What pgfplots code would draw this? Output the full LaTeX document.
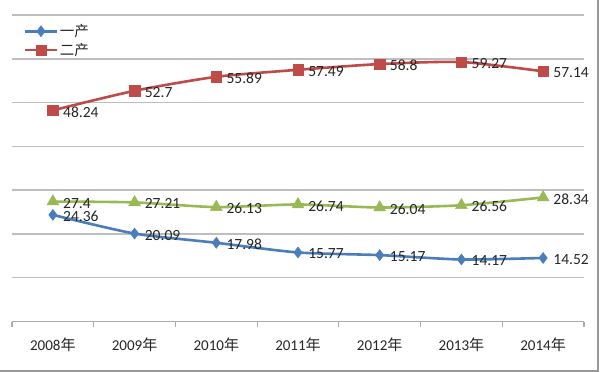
\documentclass[border=0pt]{standalone}
\usepackage{pgfplots}
\pgfplotsset{compat=1.18}
\usepackage{fontspec}
\setmainfont{Carlito}
\newfontfamily\cjk{Noto Sans CJK SC}
\definecolor{cblue}{HTML}{4A7EBB}
\definecolor{cred}{HTML}{BE4B48}
\definecolor{cgreen}{HTML}{98B954}
\definecolor{cgrid}{HTML}{BEBEBE}
\definecolor{ctext}{HTML}{262626}
\begin{document}
\begin{tikzpicture}
\path[use as bounding box] (-12pt,-50pt) rectangle (587pt,321pt);
\begin{axis}[
  at={(0pt,0pt)}, anchor=south west,
  scale only axis, width=571pt, height=306pt,
  xmin=0, xmax=7, ymin=0, ymax=70,
  axis x line=bottom, axis y line*=left,
  x axis line style={cgrid!90!black, line width=1.3pt, -},
  y axis line style={draw=none},
  xtick={0.5,1.5,...,6.5},
  xticklabels={2008{\cjk 年},2009{\cjk 年},2010{\cjk 年},2011{\cjk 年},2012{\cjk 年},2013{\cjk 年},2014{\cjk 年}},
  major tick length=0pt,
  minor xtick={0,1,...,7},
  minor tick length=5pt,
  tick align=outside,
  minor tick style={cgrid!90!black, line width=1.2pt},
  ytick style={draw=none},
  xticklabel style={font=\fontsize{15}{17}\selectfont, text=ctext, yshift=-13pt},
  ytick={10,20,...,70}, yticklabels={},
  ymajorgrids, grid style={cgrid, line width=1.4pt},
  clip=false,
  nodes near coords={\pgfplotspointmeta},
  point meta=explicit symbolic,
  every node near coord/.style={font=\fontsize{15.5}{17}\selectfont, text=ctext, anchor=west, xshift=9pt, yshift=-1.5pt, inner sep=1pt},
  legend style={at={(axis description cs:0.02,0.975)}, anchor=north west, draw=none, fill=none,
    font=\fontsize{14.5}{16}\selectfont\cjk, text=ctext, inner sep=0pt, row sep=2pt,
    nodes={inner sep=1.5pt}},
  legend cell align=left,
  legend image code/.code={\draw[mark repeat=2,mark phase=2,#1] plot coordinates {(0pt,0pt) (16pt,0pt) (32pt,0pt)};},
]
\addplot[cblue, line width=2.6pt, smooth, tension=0.4, mark=diamond*, mark size=5.5pt, mark options={fill=cblue, draw=cblue, line width=0.5pt}]
 coordinates {(0.5,24.36)[24.36] (1.5,20.09)[20.09] (2.5,17.98)[17.98] (3.5,15.77)[15.77] (4.5,15.17)[15.17] (5.5,14.17)[14.17] (6.5,14.52)[14.52]};
\addlegendentry{一产}
\addplot[cred, line width=2.6pt, smooth, tension=0.4, mark=square*, mark size=5.2pt, mark options={fill=cred, draw=cred, line width=0.5pt}]
 coordinates {(0.5,48.24)[48.24] (1.5,52.7)[52.7] (2.5,55.89)[55.89] (3.5,57.49)[57.49] (4.5,58.8)[58.8] (5.5,59.27)[59.27] (6.5,57.14)[57.14]};
\addlegendentry{二产}
\addplot[cgreen, line width=2.6pt, smooth, tension=0.4, mark=triangle*, mark size=6.8pt, mark options={fill=cgreen, draw=cgreen, line width=0.5pt}, forget plot]
 coordinates {(0.5,27.4)[27.4] (1.5,27.21)[27.21] (2.5,26.13)[26.13] (3.5,26.74)[26.74] (4.5,26.04)[26.04] (5.5,26.56)[26.56] (6.5,28.34)[28.34]};
\end{axis}
\draw[cgrid!80!black, line width=1.3pt] (585pt,321pt) -- (585pt,-49.3pt) -- (-12pt,-49.3pt);
\end{tikzpicture}
\end{document}
